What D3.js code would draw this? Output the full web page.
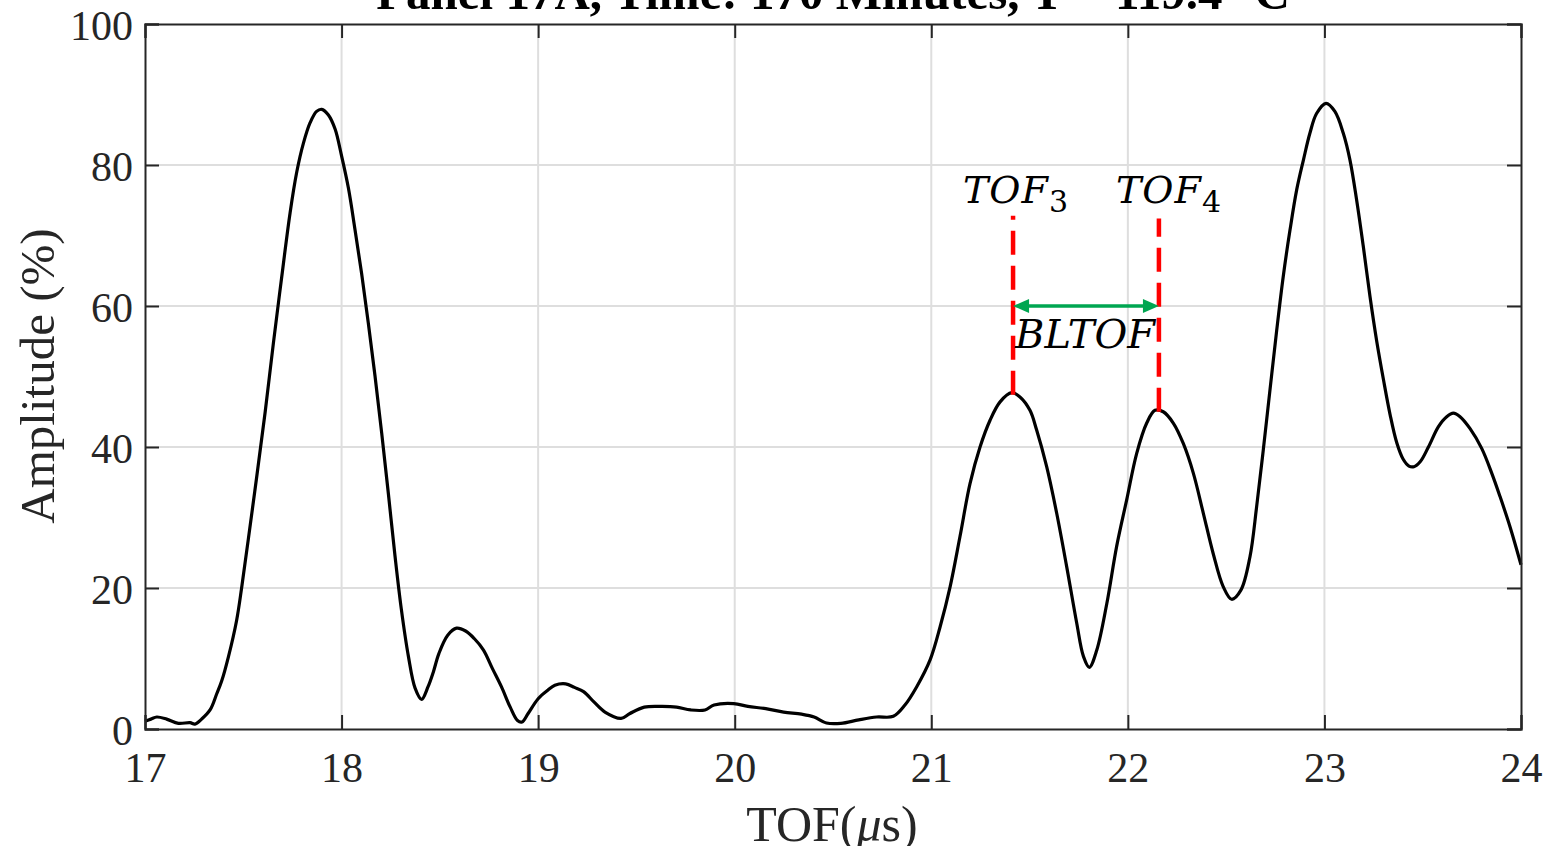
<!DOCTYPE html>
<html><head><meta charset="utf-8">
<script src="https://cdn.jsdelivr.net/npm/d3@7"></script>
<style>html,body{margin:0;padding:0;background:#fff;overflow:hidden}</style>
</head><body>
<svg id="chart" width="1545" height="846"></svg>
<script>
const titleText = "Panel 17A, Time: 170 Minutes, T = 119.4 °C";
const xTicks = [17,18,19,20,21,22,23,24];
const yTicks = [0,20,40,60,80,100];
const tof = [17.000,17.030,17.060,17.110,17.170,17.229,17.254,17.288,17.331,17.365,17.390,17.424,17.466,17.492,17.526,17.568,17.611,17.653,17.695,17.738,17.772,17.806,17.840,17.873,17.899,17.933,17.967,18.000,18.035,18.068,18.102,18.136,18.170,18.204,18.238,18.272,18.304,18.340,18.374,18.407,18.440,18.467,18.495,18.540,18.585,18.631,18.676,18.722,18.767,18.813,18.858,18.895,18.918,18.949,19.000,19.049,19.085,19.140,19.185,19.231,19.285,19.340,19.422,19.467,19.540,19.631,19.704,19.776,19.849,19.895,19.995,20.067,20.158,20.249,20.340,20.404,20.467,20.540,20.631,20.722,20.807,20.866,20.926,20.994,21.045,21.096,21.146,21.197,21.248,21.299,21.350,21.409,21.451,21.502,21.536,21.587,21.638,21.689,21.740,21.774,21.804,21.842,21.893,21.943,21.994,22.045,22.096,22.138,22.180,22.231,22.282,22.333,22.384,22.434,22.485,22.528,22.575,22.621,22.655,22.689,22.723,22.757,22.791,22.825,22.859,22.893,22.926,22.960,23.008,23.053,23.096,23.130,23.164,23.198,23.232,23.266,23.300,23.334,23.368,23.400,23.430,23.455,23.487,23.529,23.580,23.622,23.656,23.690,23.741,23.800,23.851,23.893,23.944,24.000];
const amp = [1.1,1.4,1.7,1.4,0.8,0.9,0.7,1.4,2.7,5.0,6.8,10.2,15.4,20.1,27.0,35.7,44.9,54.7,64.0,73.2,79.0,83.1,86.0,87.6,87.9,87.1,85.1,81.3,76.7,70.9,64.6,57.6,50.1,42.0,33.4,24.5,17.0,10.3,5.8,4.2,6.0,8.1,10.7,13.3,14.3,13.9,12.8,11.2,8.6,6.0,3.1,1.2,1.0,2.2,4.3,5.5,6.2,6.4,5.9,5.3,3.8,2.4,1.5,2.2,3.1,3.2,3.1,2.7,2.7,3.4,3.6,3.2,2.9,2.4,2.1,1.7,0.85,0.8,1.3,1.7,1.8,3.4,6.0,9.8,14.5,20.2,27.3,34.8,40.0,43.8,46.4,47.7,47.1,45.2,42.4,37.2,30.6,23.0,15.0,10.3,8.75,11.2,17.8,25.9,32.5,39.1,43.4,45.2,45.0,43.4,40.5,36.3,30.6,24.9,20.2,18.4,19.7,24.4,31.5,39.6,48.1,56.5,64.3,70.8,76.5,80.7,84.5,87.3,88.75,87.6,84.5,80.7,75.0,68.4,61.3,55.0,49.6,44.6,40.6,38.3,37.3,37.2,37.9,40.0,42.9,44.3,44.8,44.3,42.6,39.8,36.3,33.0,28.7,23.3];
// annotation data
const markerTof = [21.416, 22.158];
const markerPeak = [47.4, 45.0];
const markerTop = [72.8, 72.4];
const markerLabels = ["3", "4"];
const arrowAmp = 60;

const svg = d3.select("#chart");
const W = 1545, H = 846;
const m = {l:145, t:24, r:W-1521, b:H-729};
const x = d3.scaleLinear().domain([17,24]).range([m.l, W-m.r]);
const y = d3.scaleLinear().domain([0,100]).range([H-m.b, m.t]);
const axisColor = "#262626";
const serif = "'Liberation Serif','Times New Roman',serif";

// grid
const g = svg.append("g");
g.selectAll(".vg").data(xTicks.slice(1,-1)).enter().append("line")
  .attr("x1",d=>x(d)).attr("x2",d=>x(d)).attr("y1",y(0)).attr("y2",y(100))
  .attr("stroke","#dedede").attr("stroke-width",2);
g.selectAll(".hg").data(yTicks.slice(1,-1)).enter().append("line")
  .attr("y1",d=>y(d)).attr("y2",d=>y(d)).attr("x1",x(17)).attr("x2",x(24))
  .attr("stroke","#dedede").attr("stroke-width",2);

// curve
const line = d3.line().x((d,i)=>x(tof[i])).y(d=>y(d)).curve(d3.curveCatmullRom.alpha(0.5));
svg.append("path").datum(amp).attr("d",line).attr("fill","none")
  .attr("stroke","#000").attr("stroke-width",3.2).attr("stroke-linejoin","round");

// axes
const tl = 14;
const xb = svg.append("g").attr("transform",`translate(0,${y(0)})`)
  .call(d3.axisBottom(x).tickValues(xTicks).tickSize(-tl).tickPadding(0).tickFormat(d3.format("d")));
const xt = svg.append("g").attr("transform",`translate(0,${y(100)})`)
  .call(d3.axisTop(x).tickValues(xTicks).tickSize(-tl).tickFormat(""));
const yl = svg.append("g").attr("transform",`translate(${x(17)},0)`)
  .call(d3.axisLeft(y).tickValues(yTicks).tickSize(-tl).tickFormat(d3.format("d")));
const yr = svg.append("g").attr("transform",`translate(${x(24)},0)`)
  .call(d3.axisRight(y).tickValues(yTicks).tickSize(-tl).tickFormat(""));
[xb,xt,yl,yr].forEach(a=>{
  a.select(".domain").attr("stroke",axisColor).attr("stroke-width",2);
  a.selectAll(".tick line").attr("stroke",axisColor).attr("stroke-width",2);
});
xb.selectAll(".tick text").attr("font-family",serif).attr("font-size",42).attr("fill",axisColor)
  .attr("dy",null).attr("y",53);
yl.selectAll(".tick text").attr("font-family",serif).attr("font-size",42).attr("fill",axisColor)
  .attr("dy",null).attr("y",15).attr("x",-12);

// labels
svg.append("text").attr("x",833).attr("y",9).attr("text-anchor","middle")
  .attr("font-family",serif).attr("font-weight","bold").attr("font-size",49).attr("fill","#000")
  .text(titleText);
const xl = svg.append("text").attr("x",832).attr("y",841).attr("text-anchor","middle")
  .attr("font-family",serif).attr("font-size",50).attr("fill",axisColor);
xl.append("tspan").text("TOF(");
xl.append("tspan").attr("font-style","italic").text("μ");
xl.append("tspan").text("s)");
svg.append("text").attr("transform","translate(54,376) rotate(-90)").attr("text-anchor","middle")
  .attr("font-family",serif).attr("font-size",49).attr("fill",axisColor).text("Amplitude (%)");

// annotations
const mathFont = "'DejaVu Serif',serif";
markerTof.forEach((t,i)=>{
  svg.append("line").attr("x1",x(t)).attr("x2",x(t)).attr("y1",y(markerPeak[i])).attr("y2",y(markerTop[i]))
    .attr("stroke","#ff0000").attr("stroke-width",4.5).attr("stroke-dasharray","24,11");
});
// arrow
const green = "#00a651";
const ax0 = x(markerTof[0]), ax1 = x(markerTof[1]), ay = y(arrowAmp);
const hl = 16, hw = 7;
svg.append("line").attr("x1",ax0+hl-2).attr("x2",ax1-hl+2).attr("y1",ay).attr("y2",ay)
  .attr("stroke",green).attr("stroke-width",3.5);
svg.append("path").attr("d",`M${ax0},${ay} L${ax0+hl},${ay-hw} L${ax0+hl},${ay+hw} Z`).attr("fill",green);
svg.append("path").attr("d",`M${ax1},${ay} L${ax1-hl},${ay-hw} L${ax1-hl},${ay+hw} Z`).attr("fill",green);

const labPos = [[963,203],[1116,203]];
markerLabels.forEach((s,i)=>{
  const t = svg.append("text").attr("x",labPos[i][0]).attr("y",labPos[i][1])
    .attr("font-family",mathFont).attr("font-size",38).attr("fill","#000");
  t.append("tspan").attr("font-style","italic").attr("letter-spacing",1).text("TOF");
  t.append("tspan").attr("font-size",30).attr("dy",9).text(s);
});
svg.append("text").attr("x",1015).attr("y",348).attr("font-family",mathFont).attr("font-style","italic")
  .attr("font-size",40).attr("fill","#000").text("BLTOF");
</script>
</body></html>
